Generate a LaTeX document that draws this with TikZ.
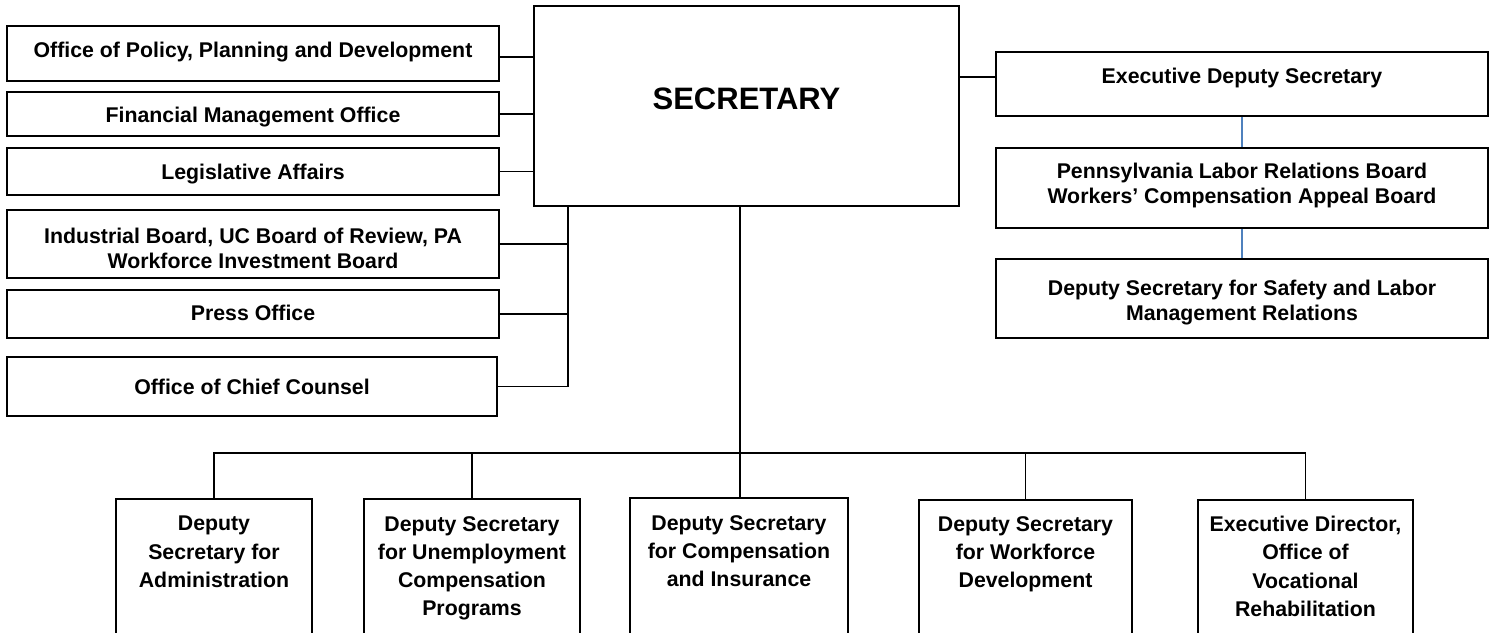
\documentclass[tikz,border=0pt]{standalone}
\usepackage{fontspec}
\setmainfont{Liberation Sans}
\definecolor{linkblue}{RGB}{79,129,189}
\begin{document}
\begin{tikzpicture}[x=1pt,y=-1pt,
  bx/.style={draw=black, line width=1.9pt, fill=white, rectangle, inner sep=0pt},
  conn/.style={draw=black, line width=1.7pt},
  bconn/.style={draw=linkblue, line width=1.5pt},
  txt/.style={font=\fontsize{21.3}{24.5}\selectfont\bfseries, inner sep=0pt, align=center},
  btxt/.style={font=\fontsize{21.3}{28.3}\selectfont\bfseries, inner sep=0pt, align=center, anchor=north},
]
\useasboundingbox (0,0) rectangle (1496,632);
\clip (0,0) rectangle (1496,632);
\fill[white] (0,0) rectangle (1496,632);

% left column
\node[bx, minimum width=492pt, minimum height=55pt] (L1) at (253,53.5) {};
\node[bx, minimum width=492pt, minimum height=44pt] (L2) at (253,114) {};
\node[bx, minimum width=492pt, minimum height=47pt] (L3) at (253,171.5) {};
\node[bx, minimum width=492pt, minimum height=68pt] (L4) at (253,244) {};
\node[bx, minimum width=492pt, minimum height=48pt] (L5) at (253,314) {};
\node[bx, minimum width=490pt, minimum height=59pt] (L6) at (252,386.5) {};

% secretary
\node[bx, minimum width=425pt, minimum height=200pt] (SEC) at (746.5,106) {};

% right column
\node[bx, minimum width=492pt, minimum height=64pt] (R1) at (1242,84) {};
\node[bx, minimum width=492pt, minimum height=80pt] (R2) at (1242,188) {};
\node[bx, minimum width=492pt, minimum height=79pt] (R3) at (1242,298.5) {};

% bottom row
\node[bx, minimum width=196pt, minimum height=146pt] (B1) at (214,572) {};
\node[bx, minimum width=216pt, minimum height=146pt] (B2) at (472,572) {};
\node[bx, minimum width=218pt, minimum height=147pt] (B3) at (739,571.5) {};
\node[bx, minimum width=213pt, minimum height=145pt] (B4) at (1025.5,572.5) {};
\node[bx, minimum width=215pt, minimum height=145pt] (B5) at (1305.5,572.5) {};

% texts
\node[txt, anchor=base] (t1) at (253,57.5) {Office of Policy, Planning and Development};
\node[txt, anchor=base] (t2) at (253,122.7) {Financial Management Office};
\node[txt, anchor=base] (t3) at (253,179.5) {Legislative Affairs};
\node[txt, anchor=north] (t4) at (253,228.3) {Industrial Board, UC Board of Review, PA\\Workforce Investment Board};
\node[txt, anchor=base] (t5) at (253,320.7) {Press Office};
\node[txt, anchor=base] (t6) at (252,394) {Office of Chief Counsel};
\node[font=\fontsize{31}{36}\selectfont\bfseries, inner sep=0pt, anchor=base] (tS) at (746.5,109) {SECRETARY};
\node[txt, anchor=base] (tR1) at (1242,83.3) {Executive Deputy Secretary};
\node[txt, anchor=north] (tR2) at (1242,163) {Pennsylvania Labor Relations Board\\Workers’ Compensation Appeal Board};
\node[txt, anchor=north] (tR3) at (1242,280) {Deputy Secretary for Safety and Labor\\Management Relations};
\node[btxt] (b1) at (214,516) {Deputy\\Secretary for\\Administration};
\node[btxt] (b2) at (472,516) {Deputy Secretary\\for Unemployment\\Compensation\\Programs};
\node[btxt] (b3) at (739,515) {Deputy Secretary\\for Compensation\\and Insurance};
\node[btxt] (b4) at (1025.5,516) {Deputy Secretary\\for Workforce\\Development};
\node[btxt] (b5) at (1305.5,516) {Executive Director,\\Office of\\Vocational\\Rehabilitation};

% connectors: left upper
\draw[conn] ([yshift=-3.5pt]L1.east) -- ([yshift=-3.5pt]L1.east -| SEC.west);
\draw[conn] (L2.east) -- (L2.east -| SEC.west);
\draw[conn] (L3.east) -- (L3.east -| SEC.west);

% connectors: left lower bus
\coordinate (busL) at (568,206);
\draw[conn] (SEC.south -| busL) -- (L6.east -| busL) -- (L6.east);
\draw[conn] (L4.east) -- (L4.east -| busL);
\draw[conn] (L5.east) -- (L5.east -| busL);

% right
\draw[conn] ([yshift=7pt]R1.west) -- ([yshift=7pt]R1.west -| SEC.east);
\draw[bconn] (R1.south) -- (R2.north);
\draw[bconn] (R2.south) -- (R3.north);

% bottom tree
\coordinate (trunk) at (740,453);
\draw[conn] (SEC.south -| trunk) -- (B3.north -| trunk);
\draw[conn] (B1.north) -- (B1.north |- trunk) -- (B5.north |- trunk) -- (B5.north);
\draw[conn] (B2.north) -- (B2.north |- trunk);
\draw[conn] (B4.north) -- (B4.north |- trunk);
\end{tikzpicture}
\end{document}
